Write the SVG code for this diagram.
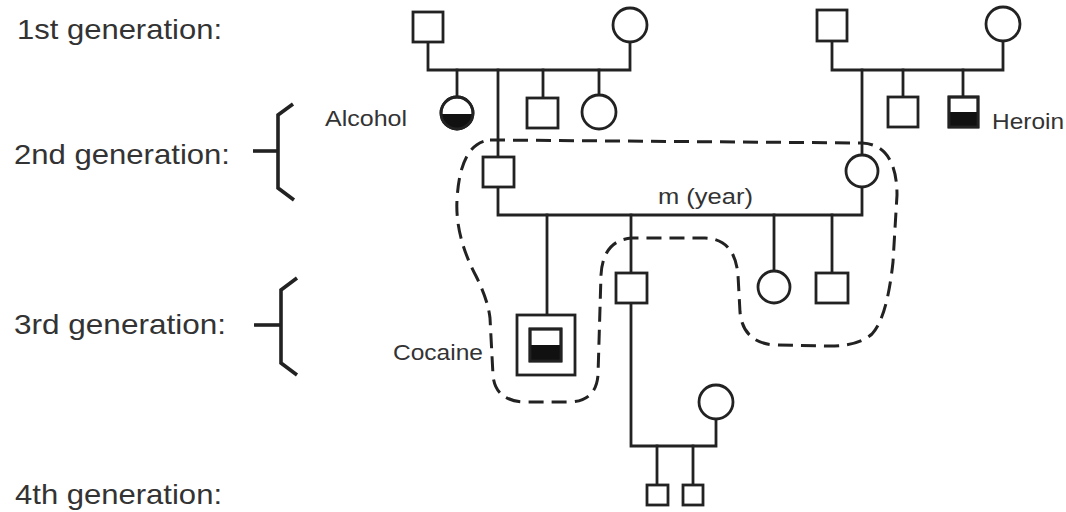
<svg xmlns="http://www.w3.org/2000/svg" width="1066" height="512" viewBox="0 0 1066 512">
<style>
.ln{fill:none;stroke:#222;stroke-width:2.8;stroke-linecap:square}
.nd{fill:#fff;stroke:#222;stroke-width:2.8}
.fill{fill:#111;stroke:none}
.br{fill:none;stroke:#222;stroke-width:3.6}
.dash{fill:none;stroke:#222;stroke-width:3;stroke-dasharray:15 8}
.gen{font-family:"Liberation Sans",Arial,sans-serif;font-size:28px;fill:#333}
.lbl{font-family:"Liberation Sans",Arial,sans-serif;font-size:22px;fill:#333}
</style>
<rect width="1066" height="512" fill="#fff"/>
<g id="labels">
<text class="gen" x="17" y="39" textLength="205" lengthAdjust="spacingAndGlyphs">1st generation:</text>
<text class="gen" x="14" y="164" textLength="216" lengthAdjust="spacingAndGlyphs">2nd generation:</text>
<text class="gen" x="14" y="334" textLength="212" lengthAdjust="spacingAndGlyphs">3rd generation:</text>
<text class="gen" x="15" y="504" textLength="207" lengthAdjust="spacingAndGlyphs">4th generation:</text>
</g>
<g id="brackets">
<polyline class="br" points="293,104 278,115 278,188 294,200"/>
<line class="br" x1="253" y1="151" x2="278" y2="151"/>
<polyline class="br" points="297,278 281,290 281,363 297,375"/>
<line class="br" x1="254" y1="325" x2="281" y2="325"/>
</g>
<g id="connectors">
<polyline class="ln" points="428,42 428,70 630,70 630,42"/>
<line class="ln" x1="457" y1="70" x2="457" y2="97"/>
<line class="ln" x1="498" y1="70" x2="498" y2="157"/>
<line class="ln" x1="543" y1="70" x2="543" y2="98"/>
<line class="ln" x1="599" y1="70" x2="599" y2="95"/>
<polyline class="ln" points="832,41 832,70 1003,70 1003,41"/>
<line class="ln" x1="862" y1="70" x2="862" y2="155"/>
<line class="ln" x1="903" y1="70" x2="903" y2="97"/>
<line class="ln" x1="963" y1="70" x2="963" y2="97"/>
<polyline class="ln" points="498,187 498,215 862,215 862,187"/>
<line class="ln" x1="547" y1="215" x2="547" y2="315"/>
<line class="ln" x1="631" y1="215" x2="631" y2="273"/>
<line class="ln" x1="774" y1="215" x2="774" y2="271"/>
<line class="ln" x1="832" y1="215" x2="832" y2="273"/>
<polyline class="ln" points="631,303 631,446 716,446 716,419"/>
<line class="ln" x1="657" y1="446" x2="657" y2="485"/>
<line class="ln" x1="693" y1="446" x2="693" y2="485"/>
</g>
<g id="n-g1-m1"><rect class="nd" x="413" y="12" width="30" height="30"/></g>
<g id="n-g1-f1"><circle class="nd" cx="630" cy="25" r="17"/></g>
<g id="n-g1-m2"><rect class="nd" x="817" y="10" width="30" height="31"/></g>
<g id="n-g1-f2"><circle class="nd" cx="1003" cy="24" r="17"/></g>
<g id="n-alcohol">
<circle class="nd" cx="457" cy="113" r="16"/>
<path class="fill" d="M441,114 H473 A16,16 0 0 1 441,114 Z"/>
<circle cx="457" cy="113" r="16" fill="none" stroke="#222" stroke-width="2.8"/>
<text class="lbl" x="325" y="126" textLength="82" lengthAdjust="spacingAndGlyphs">Alcohol</text>
</g>
<g id="n-g2-s1"><rect class="nd" x="527" y="98" width="31" height="30"/></g>
<g id="n-g2-d1"><circle class="nd" cx="599" cy="112" r="17"/></g>
<g id="n-g2-s2"><rect class="nd" x="888" y="97" width="30" height="30"/></g>
<g id="n-heroin">
<rect class="nd" x="949" y="97" width="29" height="30"/>
<rect class="fill" x="949" y="112" width="29" height="15"/>
<rect x="949" y="97" width="29" height="30" fill="none" stroke="#222" stroke-width="2.8"/>
<text class="lbl" x="992" y="129" textLength="72" lengthAdjust="spacingAndGlyphs">Heroin</text>
</g>
<g id="n-g2-husband"><rect class="nd" x="483" y="157" width="31" height="30"/></g>
<g id="n-g2-wife"><circle class="nd" cx="862" cy="171" r="16"/></g>
<g id="n-marriage"><text class="lbl" x="658" y="204" textLength="95" lengthAdjust="spacingAndGlyphs">m (year)</text></g>
<g id="n-cocaine">
<rect class="nd" x="517" y="315" width="58" height="60"/>
<rect class="nd" x="530" y="329" width="31" height="32"/>
<rect class="fill" x="530" y="345" width="31" height="16"/>
<rect x="530" y="329" width="31" height="32" fill="none" stroke="#222" stroke-width="2.8"/>
<text class="lbl" x="393" y="360" textLength="90" lengthAdjust="spacingAndGlyphs">Cocaine</text>
</g>
<g id="n-g3-s2"><rect class="nd" x="616" y="273" width="31" height="30"/></g>
<g id="n-g3-d1"><circle class="nd" cx="774" cy="287" r="16"/></g>
<g id="n-g3-s3"><rect class="nd" x="816" y="273" width="32" height="30"/></g>
<g id="n-g3-spouse"><circle class="nd" cx="716" cy="402" r="17"/></g>
<g id="n-g4-s1"><rect class="nd" x="647" y="485" width="21" height="20"/></g>
<g id="n-g4-s2"><rect class="nd" x="683" y="485" width="20" height="20"/></g>
<g id="outline">
<path class="dash" d="M490,140 L862,143 C885,144 897,162 897,195 L893,262 Q887,318 872,334 Q858,346 830,346 L775,345 Q743,343 740,312 L738,275 Q735,239 705,238 L632,238 Q603,240 601,275 L598,375 Q596,401 570,402 L525,402 Q495,401 493,375 L490,318 Q488,300 476,276 Q455,236 457,200 Q460,143 490,140 Z"/>
</g>
</svg>
